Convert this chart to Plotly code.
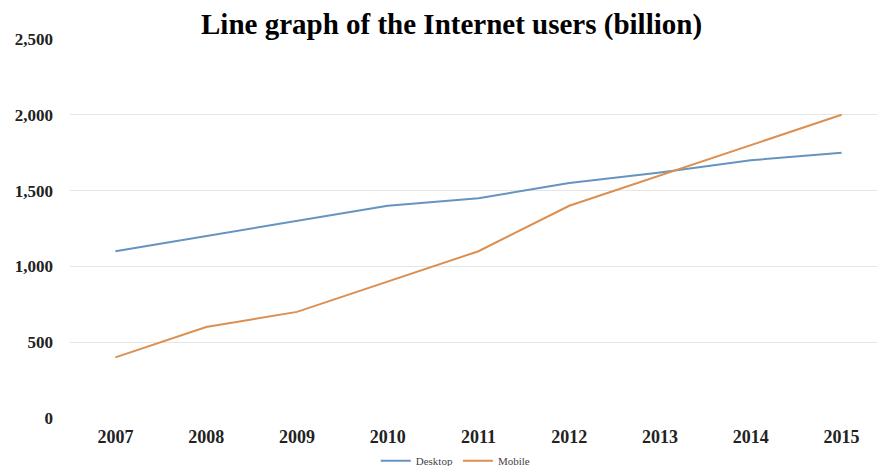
import plotly.graph_objects as go

years = ["2007", "2008", "2009", "2010", "2011", "2012", "2013", "2014", "2015"]
desktop = [1100, 1200, 1300, 1400, 1450, 1550, 1620, 1700, 1750]
mobile = [400, 600, 700, 900, 1100, 1400, 1600, 1800, 2000]
y_ticks = [0, 500, 1000, 1500, 2000, 2500]

SERIF = "Liberation Serif, Times New Roman, serif"

fig = go.Figure()
fig.add_trace(go.Scatter(x=years, y=desktop, mode="lines", name="Desktop",
                         line=dict(color="#6594C0", width=2)))
fig.add_trace(go.Scatter(x=years, y=mobile, mode="lines", name="Mobile",
                         line=dict(color="#DC8F50", width=2)))

W, H = 877, 466
left, top, bottom = 69.6, 39, 48
fig.update_layout(
    width=W, height=H,
    margin=dict(l=left, r=0, t=top, b=bottom, pad=0, autoexpand=False),
    paper_bgcolor="white", plot_bgcolor="white",
    showlegend=True,
    legend=dict(orientation="h", x=0.478, xanchor="center", y=-0.113, yanchor="middle",
                font=dict(family=SERIF, size=11, color="#444444"),
                itemwidth=30, tracegroupgap=0, bgcolor="rgba(0,0,0,0)"),
    xaxis=dict(type="category", range=[-0.5, 8.39], showgrid=False, zeroline=False,
               showline=False, ticks="", automargin=False,
               tickfont=dict(family=SERIF, size=18, color="#222222", weight="bold"),
               ticklabelstandoff=6),
    yaxis=dict(range=[0, 2500], tickvals=y_ticks, tickformat=",",
               showgrid=True, gridcolor="#E6E6E6", gridwidth=1,
               zeroline=False, showline=False, ticks="", automargin=False,
               tickfont=dict(family=SERIF, size=17, color="#222222", weight="bold"),
               ticklabelstandoff=16),
)
fig.add_annotation(
    text="<b>Line graph of the Internet users (billion)</b>",
    xref="paper", yref="paper", x=(451 - left) / (W - left), y=(418 - 25) / (418 - 39),
    xanchor="center", yanchor="middle", showarrow=False,
    font=dict(family=SERIF, size=29, color="black"),
    bgcolor="white", borderpad=20,
)

fig.write_html("out.html")
